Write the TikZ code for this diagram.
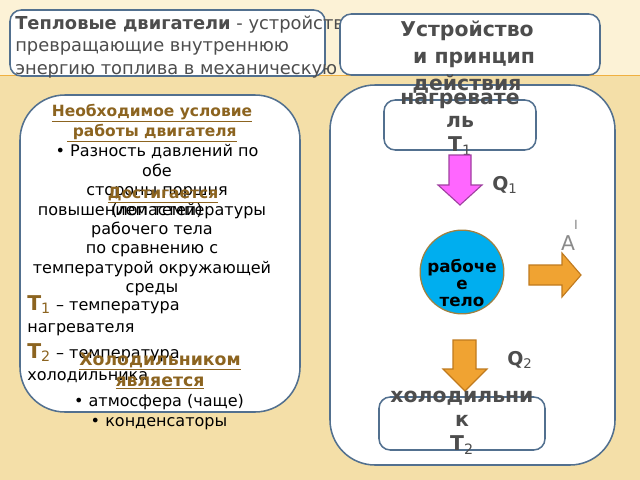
\documentclass[tikz,border=0pt]{standalone}
\usepackage{fontspec}
\setmainfont{DejaVu Sans}
\usetikzlibrary{calc}

\definecolor{bgtop}{HTML}{FCF2D6}
\definecolor{bgbot}{HTML}{F4DFA8}
\definecolor{rulecol}{HTML}{F0B040}
\definecolor{framecol}{HTML}{52708F}
\definecolor{greytxt}{HTML}{4D4D4D}
\definecolor{lightgrey}{HTML}{8A8A8A}
\definecolor{browntxt}{HTML}{8C6420}
\definecolor{pinkfill}{HTML}{FF66FF}
\definecolor{pinkline}{HTML}{A040A0}
\definecolor{orangefill}{HTML}{F0A332}
\definecolor{orangeline}{HTML}{C07A1E}
\definecolor{bodyfill}{HTML}{00AEEF}
\definecolor{bodyline}{HTML}{A08040}

\newcommand{\fs}[2]{\fontsize{#1pt}{#2pt}\selectfont}

\begin{document}
\begin{tikzpicture}[x=0.025cm,y=-0.025cm,
	panel/.style={draw=framecol,line width=1.1pt,fill=white,rounded corners=32pt},
	tab/.style={draw=framecol,line width=1.1pt,fill=white,rounded corners=8pt},
	txt/.style={inner sep=0pt,align=center},
	lefttxt/.style={txt,font=\fs{11.4}{13.8},text=black},
	headtxt/.style={txt,font=\bfseries\fs{11}{14.2},text=browntxt},
	boldgrey/.style={txt,font=\bfseries\fs{14.5}{17},text=greytxt},
	pinkarrow/.style={fill=pinkfill,draw=pinkline,line width=0.8pt},
	orangearrow/.style={fill=orangefill,draw=orangeline,line width=0.8pt}]
				% background
				\useasboundingbox (0,0) rectangle (640,480);
				\fill[bgtop] (0,0) rectangle (640,75);
				\fill[bgbot] (0,75) rectangle (640,480);
				\draw[rulecol,line width=0.7pt] (0,75)--(640,75);
				% definition
				\draw[tab] (10,10) rectangle (325,76);
				\node[txt,anchor=west,align=left,text=greytxt,font=\fs{12.7}{15.9}] (defn) at (15,47)
					{{\bfseries Тепловые двигатели} - устройства\\превращающие внутреннюю\\энергию топлива в механическую};
				% title
				\draw[tab] (340,14) rectangle (600,75);
				% panels
				\draw[panel] (20,95) rectangle (300,412);
				\draw[panel] (330,85) rectangle (615,465);
				\node[txt,text=greytxt,font=\bfseries\fs{14.5}{19.1}] (title) at (467,57)
					{Устройство\\\ \ и принцип\\действия};
				% left panel
				\node[headtxt] (cond) at (152,123)
					{\underline{Необходимое условие}\\\underline{\ работы двигателя}};
				\node[lefttxt] (press) at (157,181)
					{• Разность давлений по\\обе\\стороны поршня\\(лопастей)};
				\node[headtxt] (reach) at (163,195) {\underline{Достигается}};
				\node[lefttxt] (raise) at (152,251)
					{повышением температуры\\рабочего тела\\по сравнению с\\температурой окружающей\\среды};
				\node[txt,anchor=base west,font=\fs{11.4}{13.8}] (tone) at (27,310)
					{{\color{browntxt}\bfseries\fs{14.5}{17}T\textsubscript{\mdseries 1}} – температура};
				\node[txt,anchor=base west,font=\fs{11.4}{13.8}] (heatname) at (27,332) {нагревателя};
				\node[txt,anchor=base west,font=\fs{11.4}{13.8}] (ttwo) at (27,358)
					{{\color{browntxt}\bfseries\fs{14.5}{17}T\textsubscript{\mdseries 2}} – температура};
				\node[txt,anchor=base west,font=\fs{11.4}{13.8}] (coolname) at (27,380) {холодильника};
				\node[headtxt,font=\bfseries\fs{12.3}{15.2}] (coolis) at (160,371)
					{\underline{Холодильником}\\\underline{является}};
				\node[lefttxt,font=\fs{11.4}{14.2}] (coolers) at (159,412)
					{• атмосфера (чаще)\\• конденсаторы};
				% right panel
				\draw[tab] (384,100) rectangle (536,150);
				\node[boldgrey] (heater) at (460,124)
					{нагревате\\ль\\T\textsubscript{\mdseries 1}};
				\coordinate (P1) at (449,155);
				\coordinate (P2) at (471,155);
				\coordinate (P3) at (460,205);
				\draw[pinkarrow] (P1)--(P2)--(471,185)--(482,185)--(P3)--(438,185)--(449,185)--cycle;
				\node[txt,text=greytxt,font=\bfseries\fs{13.5}{16}] (qone) at (505,185) {Q\textsubscript{\mdseries 1}};
				\node[circle,minimum size=59.5pt,inner sep=0pt,fill=bodyfill,draw=bodyline,line width=0.9pt] (body) at (462,272) {};
				\node[txt,font=\bfseries\fs{11.9}{12.4},text=black] (bodytxt) at (462,283) {рабоче\\е\\тело};
				\coordinate (W1) at (529,265);
				\coordinate (W2) at (581,275);
				\draw[orangearrow] (W1)--(562,265)--(562,253)--(W2)--(562,297)--(562,285)--(529,285)--cycle;
				\node[txt,text=lightgrey,font=\fs{14.5}{17}] (work) at (568,243) {A};
				\node[txt,text=lightgrey,font=\fs{9}{10}] (workmark) at (576,225) {I};
				\coordinate (C1) at (453,340);
				\coordinate (C2) at (465,391);
				\draw[orangearrow] (C1)--(476,340)--(476,369)--(487,369)--(C2)--(443,369)--(453,369)--cycle;
				\node[txt,text=greytxt,font=\bfseries\fs{13.5}{16}] (qtwo) at (520,360) {Q\textsubscript{\mdseries 2}};
				\draw[tab] (379,397) rectangle (545,450);
				\node[boldgrey] (cooler) at (462,423)
					{холодильни\\к\\T\textsubscript{\mdseries 2}};
			\end{tikzpicture}
\end{document}
